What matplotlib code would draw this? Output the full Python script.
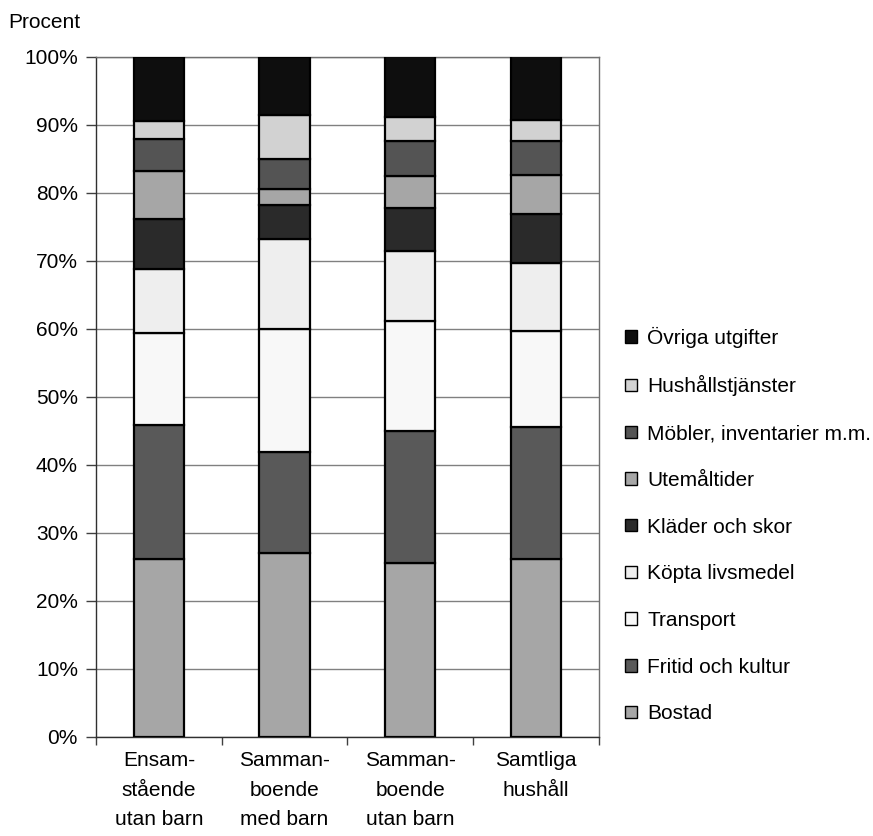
import numpy as np
import matplotlib
matplotlib.use("Agg")
import matplotlib.pyplot as plt
from matplotlib.patches import Patch

plt.rcParams["font.family"] = ["Liberation Sans", "DejaVu Sans"]

# ── Data (share of expenditure, percent) ──
categories = ["Ensam-\nstående\nutan barn", "Samman-\nboende\nmed barn",
              "Samman-\nboende\nutan barn", "Samtliga\nhushåll"]
bostad = [26.2, 27.0, 25.6, 26.2]
fritid = [19.7, 14.8, 19.4, 19.4]
transport = [13.5, 18.2, 16.1, 14.1]
livsmedel = [9.4, 13.2, 10.3, 10.0]
klader = [7.4, 5.0, 6.3, 7.1]
utemaltider = [7.0, 2.3, 4.7, 5.8]
mobler = [4.7, 4.5, 5.25, 5.0]
hushall = [2.6, 6.4, 3.5, 3.1]
ovriga = [9.5, 8.6, 8.9, 9.5]

series = [
    ("Bostad", bostad, "#a6a6a6"),
    ("Fritid och kultur", fritid, "#595959"),
    ("Transport", transport, "#f8f8f8"),
    ("Köpta livsmedel", livsmedel, "#eeeeee"),
    ("Kläder och skor", klader, "#2a2a2a"),
    ("Utemåltider", utemaltider, "#a6a6a6"),
    ("Möbler, inventarier m.m.", mobler, "#545454"),
    ("Hushållstjänster", hushall, "#d2d2d2"),
    ("Övriga utgifter", ovriga, "#0e0e0e"),
]

fig = plt.figure(figsize=(8.73, 8.36), dpi=100)
ax = fig.add_axes([0.110, 0.1188, 0.576, 0.8134])

x = np.arange(len(categories))
bottom = np.zeros(len(categories))
handles = []
for name, vals, col in series:
    vals = np.array(vals, dtype=float)
    ax.bar(x, vals, bottom=bottom, width=0.4, color=col,
           edgecolor="black", linewidth=1.6, zorder=3)
    bottom += vals
    handles.append(Patch(facecolor=col, edgecolor="black", linewidth=1.0,
                         label=name))

ax.set_xlim(-0.5, len(categories) - 0.5)
ax.set_ylim(0, 100)
ax.set_yticks(np.arange(0, 101, 10))
ax.set_yticklabels([f"{v}%" for v in range(0, 101, 10)], fontsize=15)
ax.yaxis.grid(True, color="#808080", linewidth=1.0, zorder=0)
ax.tick_params(axis="y", length=7, width=1, color="#404040", pad=6)

# tick marks between categories, labels at centres
ax.set_xticks(np.arange(-0.5, len(categories), 1.0))
ax.set_xticklabels([])
ax.tick_params(axis="x", which="major", length=6, width=1, color="#404040")
ax.set_xticks(x, minor=True)
ax.set_xticklabels(categories, minor=True, fontsize=15, linespacing=1.73)
ax.tick_params(axis="x", which="minor", length=0, pad=10)

for s in ["left", "bottom"]:
    ax.spines[s].set_color("#303030")
    ax.spines[s].set_linewidth(1.0)
for s in ["top", "right"]:
    ax.spines[s].set_color("#707070")
    ax.spines[s].set_linewidth(1.0)

fig.text(8 / 873, 1 - 22 / 836, "Procent", fontsize=15, va="center", ha="left")

fig.legend(handles=handles[::-1], loc="center left",
           bbox_to_anchor=(615 / 873, 1 - 525 / 836), frameon=False,
           fontsize=15, handlelength=0.55, handleheight=0.55,
           handletextpad=0.5, labelspacing=1.33, borderpad=0)

fig.savefig("out.png", dpi=100)
plt.close()
